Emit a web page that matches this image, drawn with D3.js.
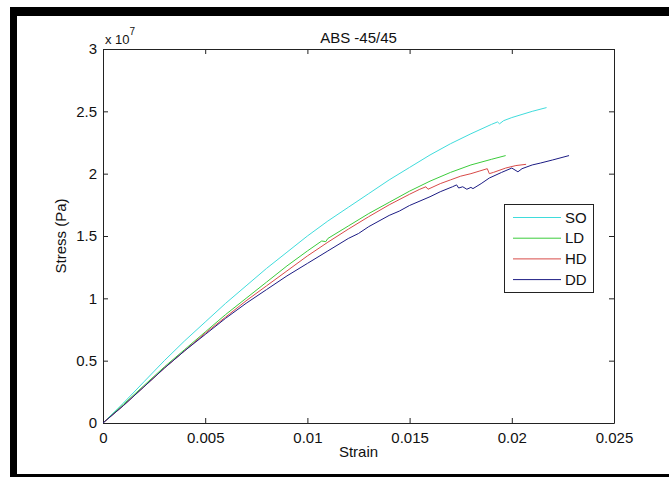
<!DOCTYPE html>
<html>
<head>
<meta charset="utf-8">
<script src="https://cdn.jsdelivr.net/npm/d3@7"></script>
<style>
  html, body { margin: 0; padding: 0; background: #fff; }
  svg { display: block; }
  text { font-family: "Liberation Sans", Arial, Helvetica, sans-serif; fill: #111; }
</style>
</head>
<body>
<svg id="chart" width="669" height="477"></svg>
<script>
// Stress values are in units of 10^7 Pa (the axis carries the "x 10^7" multiplier).
const seriesNames = ["SO", "LD", "HD", "DD"];
const seriesColors = ["#3fdcdc", "#3ccc3c", "#d84a48", "#1c1c84"];

const strainSO = [0, 0.001, 0.002, 0.003, 0.004, 0.005, 0.006, 0.007, 0.008, 0.009, 0.010, 0.011, 0.012, 0.013, 0.014, 0.015, 0.016, 0.017, 0.018, 0.019, 0.0193, 0.0194, 0.0196, 0.020, 0.0205, 0.021, 0.0217];
const stressSO = [0, 0.16, 0.33, 0.50, 0.66, 0.81, 0.96, 1.10, 1.24, 1.37, 1.50, 1.62, 1.73, 1.84, 1.95, 2.05, 2.15, 2.24, 2.32, 2.395, 2.415, 2.40, 2.425, 2.45, 2.475, 2.50, 2.53];

const strainLD = [0, 0.001, 0.002, 0.003, 0.004, 0.005, 0.006, 0.007, 0.008, 0.009, 0.010, 0.0107, 0.0109, 0.011, 0.012, 0.013, 0.014, 0.015, 0.016, 0.017, 0.018, 0.019, 0.0197];
const stressLD = [0, 0.15, 0.30, 0.45, 0.59, 0.73, 0.87, 1.00, 1.13, 1.26, 1.38, 1.46, 1.455, 1.48, 1.58, 1.68, 1.77, 1.86, 1.94, 2.01, 2.07, 2.115, 2.145];

const strainHD = [0, 0.001, 0.002, 0.003, 0.004, 0.005, 0.006, 0.007, 0.008, 0.009, 0.010, 0.011, 0.012, 0.013, 0.014, 0.015, 0.0155, 0.0158, 0.0159, 0.0165, 0.017, 0.0175, 0.018, 0.0184, 0.0188, 0.0189, 0.0191, 0.0197, 0.0202, 0.0207];
const stressHD = [0, 0.14, 0.29, 0.44, 0.58, 0.72, 0.85, 0.98, 1.10, 1.22, 1.34, 1.45, 1.555, 1.655, 1.75, 1.835, 1.875, 1.895, 1.875, 1.92, 1.95, 1.98, 2.00, 2.02, 2.04, 2.00, 2.01, 2.045, 2.065, 2.075];

const strainDD = [0, 0.001, 0.002, 0.003, 0.004, 0.005, 0.006, 0.007, 0.008, 0.009, 0.010, 0.011, 0.012, 0.0125, 0.013, 0.014, 0.0145, 0.015, 0.016, 0.0165, 0.0171, 0.0173, 0.0174, 0.0176, 0.0178, 0.018, 0.0181, 0.0185, 0.0189, 0.0195, 0.020, 0.0203, 0.0205, 0.021, 0.0214, 0.022, 0.0228];
const stressDD = [0, 0.14, 0.29, 0.44, 0.58, 0.71, 0.84, 0.96, 1.07, 1.18, 1.28, 1.38, 1.48, 1.52, 1.575, 1.665, 1.70, 1.745, 1.815, 1.855, 1.895, 1.91, 1.885, 1.895, 1.875, 1.89, 1.88, 1.92, 1.965, 2.01, 2.045, 2.015, 2.04, 2.07, 2.085, 2.11, 2.145];

const xTicks = [0, 0.005, 0.01, 0.015, 0.02, 0.025];
const yTicks = [0, 0.5, 1, 1.5, 2, 2.5, 3];
const titleText = "ABS -45/45";
const xLabel = "Strain";
const yLabel = "Stress (Pa)";

const series = [
  { name: "SO", strain: strainSO, stress: stressSO },
  { name: "LD", strain: strainLD, stress: stressLD },
  { name: "HD", strain: strainHD, stress: stressHD },
  { name: "DD", strain: strainDD, stress: stressDD }
];

const svg = d3.select("#chart");

// figure frame
svg.append("rect").attr("x", 10).attr("y", 7).attr("width", 659).attr("height", 9).attr("fill", "#000");
svg.append("rect").attr("x", 10).attr("y", 7).attr("width", 7).attr("height", 470).attr("fill", "#000");
svg.append("rect").attr("x", 10).attr("y", 474).attr("width", 659).attr("height", 3).attr("fill", "#000");

const plotLeft = 103, plotRight = 614, plotTop = 49, plotBottom = 423;
const x = d3.scaleLinear().domain([0, 0.025]).range([plotLeft, plotRight]);
const y = d3.scaleLinear().domain([0, 3]).range([plotBottom, plotTop]);

const fmtX = d => String(+d.toFixed(3));
const fmtY = d => String(+d.toFixed(1));

function styleAxis(g) {
  g.selectAll("path").attr("stroke", "#222");
  g.selectAll("line").attr("stroke", "#222");
  g.selectAll("text").attr("fill", "#111").style("font-size", "15px")
    .style("font-family", '"Liberation Sans", Arial, sans-serif');
}

svg.append("g").attr("transform", `translate(0,${plotBottom})`)
  .call(d3.axisBottom(x).tickValues(xTicks).tickFormat(fmtX).tickSize(-5).tickSizeOuter(0).tickPadding(9))
  .call(styleAxis);
svg.append("g").attr("transform", `translate(0,${plotTop})`)
  .call(d3.axisTop(x).tickValues(xTicks).tickFormat("").tickSize(-5).tickSizeOuter(0))
  .call(styleAxis);
svg.append("g").attr("transform", `translate(${plotLeft},0)`)
  .call(d3.axisLeft(y).tickValues(yTicks).tickFormat(fmtY).tickSize(-5).tickSizeOuter(0).tickPadding(6))
  .call(styleAxis);
svg.append("g").attr("transform", `translate(${plotRight},0)`)
  .call(d3.axisRight(y).tickValues(yTicks).tickFormat("").tickSize(-5).tickSizeOuter(0))
  .call(styleAxis);

// curves
const line = d3.line().x(d => x(d[0])).y(d => y(d[1]));
const color = d3.scaleOrdinal().domain(seriesNames).range(seriesColors);
svg.append("g").selectAll("path").data(series).join("path")
  .attr("fill", "none")
  .attr("stroke", d => color(d.name))
  .attr("stroke-width", 1)
  .attr("stroke-linejoin", "round")
  .attr("d", d => line(d.strain.map((s, i) => [s, d.stress[i]])));

// title and labels
svg.append("text").attr("x", (plotLeft + plotRight) / 2).attr("y", 43).attr("text-anchor", "middle")
  .style("font-size", "15px").text(titleText);
svg.append("text").attr("x", (plotLeft + plotRight) / 2).attr("y", 457).attr("text-anchor", "middle")
  .style("font-size", "15px").text(xLabel);
svg.append("text").attr("transform", `translate(66,${(plotTop + plotBottom) / 2}) rotate(-90)`)
  .attr("text-anchor", "middle").style("font-size", "15px").text(yLabel);

// exponent label
const expo = svg.append("text").attr("x", 105).attr("y", 44).style("font-size", "13px");
expo.append("tspan").text("x 10");
expo.append("tspan").attr("dy", -9).style("font-size", "10px").text("7");

// legend
const lg = svg.append("g");
lg.append("rect").attr("x", 504.5).attr("y", 204.5).attr("width", 89).attr("height", 88)
  .attr("fill", "#fff").attr("stroke", "#222").attr("stroke-width", 1);
const rows = lg.selectAll("g.row").data(seriesNames).join("g").attr("class", "row")
  .attr("transform", (d, i) => `translate(0,${217 + i * 20.7})`);
rows.append("line").attr("x1", 513).attr("x2", 561).attr("y1", 0.5).attr("y2", 0.5)
  .attr("stroke", d => color(d)).attr("stroke-width", 1);
rows.append("text").attr("x", 565).attr("y", 5.5).style("font-size", "15px").text(d => d);
</script>
</body>
</html>
